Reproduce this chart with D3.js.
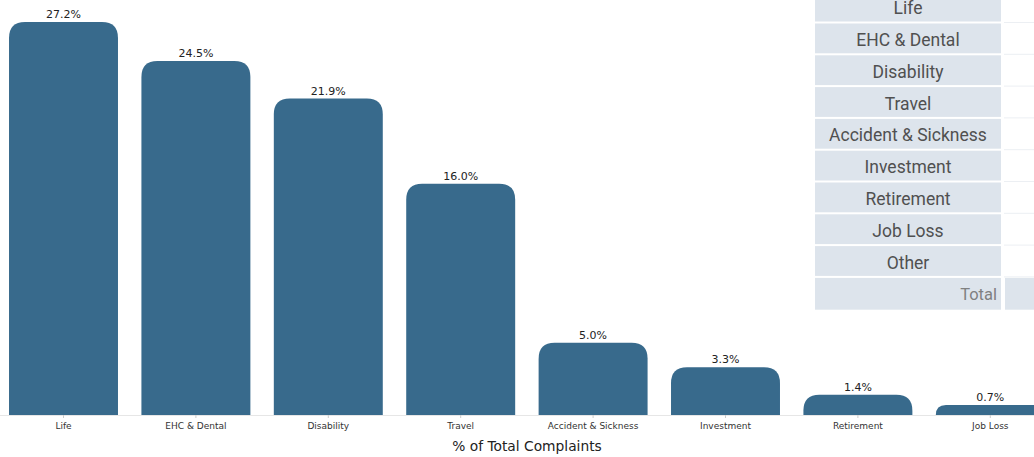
<!DOCTYPE html>
<html>
<head>
<meta charset="utf-8">
<script src="https://cdn.jsdelivr.net/npm/d3@7"></script>
<style>
  body { margin: 0; background: #fff; overflow: hidden; }
  svg { display: block; }
</style>
</head>
<body>
<svg id="chart" width="1034" height="457"></svg>
<script>
// data
var categories = ["Life", "EHC & Dental", "Disability", "Travel", "Accident & Sickness", "Investment", "Retirement", "Job Loss"];
var shares = [27.2, 24.5, 21.9, 16.0, 5.0, 3.3, 1.4, 0.7];
var tableRows = ["Life", "EHC & Dental", "Disability", "Travel", "Accident & Sickness", "Investment", "Retirement", "Job Loss", "Other"];
var totalLabel = "Total";
var axisTitle = "% of Total Complaints";

var svg = d3.select("#chart");
var baseY = 415;
var barColor = "#386a8c";

var x = d3.scaleBand()
    .domain(categories)
    .range([-2.7, 1056.5])
    .paddingInner(0.177)
    .paddingOuter(0.0885);

var y = d3.scaleLinear()
    .domain([0, d3.max(shares)])
    .range([baseY, 22]);

// baseline
svg.append("line")
    .attr("x1", 0).attr("x2", 1034)
    .attr("y1", baseY + 0.5).attr("y2", baseY + 0.5)
    .style("stroke", "#e6e6e6");

function topRoundedBar(x0, y0, w, h) {
    var r = Math.min(16, h, w / 2);
    return "M" + x0 + "," + (y0 + h) +
        "V" + (y0 + r) +
        "Q" + x0 + "," + y0 + " " + (x0 + r) + "," + y0 +
        "H" + (x0 + w - r) +
        "Q" + (x0 + w) + "," + y0 + " " + (x0 + w) + "," + (y0 + r) +
        "V" + (y0 + h) + "Z";
}

var bars = svg.selectAll("g.bar")
    .data(categories)
    .enter().append("g")
    .attr("class", "bar");

bars.append("path")
    .attr("d", function(d, i) {
        return topRoundedBar(x(d), y(shares[i]), x.bandwidth(), baseY - y(shares[i]));
    })
    .style("fill", barColor);

bars.append("text")
    .attr("x", function(d) { return x(d) + x.bandwidth() / 2; })
    .attr("y", function(d, i) { return y(shares[i]) - 4; })
    .attr("text-anchor", "middle")
    .style("font-family", "DejaVu Sans, sans-serif")
    .style("font-size", "11px")
    .style("fill", "#222")
    .text(function(d, i) { return shares[i].toFixed(1) + "%"; });

// x axis
var xAxis = d3.axisBottom(x).tickSize(3).tickPadding(5);
var gx = svg.append("g")
    .attr("transform", "translate(0," + baseY + ")")
    .call(xAxis);
gx.select(".domain").remove();
gx.selectAll(".tick line").style("stroke", "#ccc");
gx.selectAll(".tick text")
    .style("font-family", "DejaVu Sans, sans-serif")
    .style("font-size", "9px")
    .style("fill", "#333");

svg.append("text")
    .attr("x", 527)
    .attr("y", 451)
    .attr("text-anchor", "middle")
    .style("font-family", "DejaVu Sans, sans-serif")
    .style("font-size", "13.8px")
    .style("fill", "#222")
    .text(axisTitle);

// table overlay on the right
var rowH = 31.8;
var rowTop = 23.5 - rowH;
var tbl = svg.append("g").attr("class", "table");

tbl.append("rect")
    .attr("x", 1003).attr("y", 0)
    .attr("width", 31).attr("height", 278)
    .style("fill", "#fff");

tableRows.forEach(function(name, i) {
    var ty = rowTop + i * rowH;
    tbl.append("rect")
        .attr("x", 815).attr("y", ty)
        .attr("width", 186).attr("height", rowH - 2)
        .style("fill", "#dde4ec");
    tbl.append("line")
        .attr("x1", 1004).attr("x2", 1034)
        .attr("y1", ty + rowH - 1).attr("y2", ty + rowH - 1)
        .style("stroke", "#eceff3");
    tbl.append("text")
        .attr("x", 908)
        .attr("y", ty + rowH / 2 + 6.5)
        .attr("text-anchor", "middle")
        .style("font-family", "Roboto, sans-serif")
        .style("font-weight", 400)
        .style("font-size", "17.5px")
        .style("fill", "#505050")
        .text(name);
});

var totalY = rowTop + tableRows.length * rowH;
tbl.append("rect")
    .attr("x", 815).attr("y", totalY)
    .attr("width", 186).attr("height", rowH)
    .style("fill", "#dde4ec");
tbl.append("rect")
    .attr("x", 1005).attr("y", totalY)
    .attr("width", 29).attr("height", rowH)
    .style("fill", "#dde4ec");
tbl.append("text")
    .attr("x", 997)
    .attr("y", totalY + rowH / 2 + 6)
    .attr("text-anchor", "end")
    .style("font-family", "Roboto, sans-serif")
    .style("font-weight", 400)
    .style("font-size", "16.5px")
    .style("fill", "#808080")
    .text(totalLabel);
</script>
</body>
</html>
